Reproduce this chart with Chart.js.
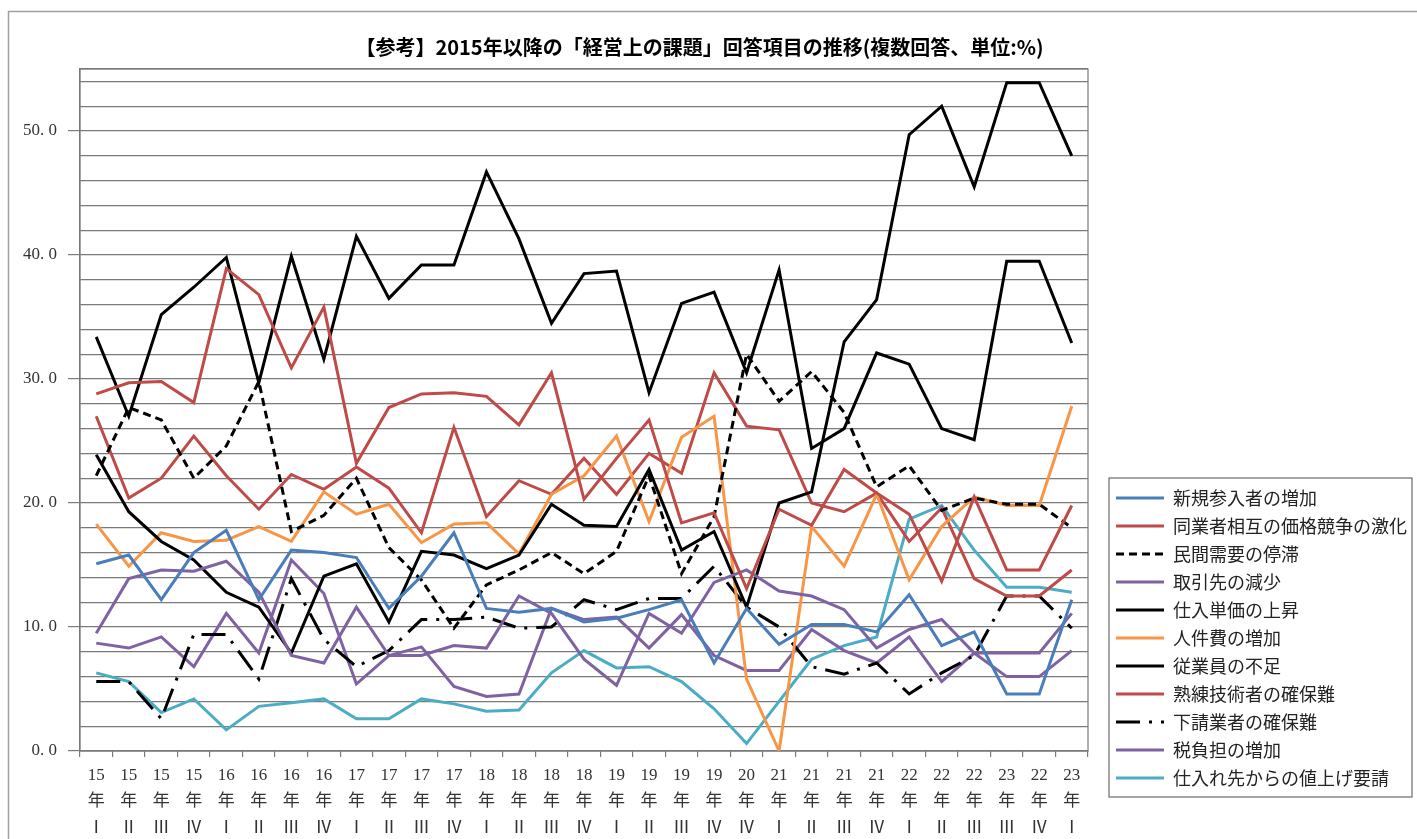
<!DOCTYPE html>
<html lang="ja">
<head>
<meta charset="utf-8">
<title>経営上の課題 回答項目の推移</title>
<script src="https://cdn.jsdelivr.net/npm/chart.js@4.4.1/dist/chart.umd.min.js"></script>
<style>
  html, body { margin: 0; padding: 0; background: #fff; }
</style>
</head>
<body>
<canvas id="chart" width="1417" height="839"></canvas>
<script>
// x axis: year + quarter (three-line labels)
const years = ["15","15","15","15","16","16","16","16","17","17","17","17","18","18","18","18",
               "19","19","19","19","20","21","21","21","21","22","22","22","23","22","23"];
const quarters = ["Ⅰ","Ⅱ","Ⅲ","Ⅳ","Ⅰ","Ⅱ","Ⅲ","Ⅳ","Ⅰ","Ⅱ","Ⅲ","Ⅳ","Ⅰ","Ⅱ","Ⅲ","Ⅳ",
                  "Ⅰ","Ⅱ","Ⅲ","Ⅳ","Ⅳ","Ⅰ","Ⅱ","Ⅲ","Ⅳ","Ⅰ","Ⅱ","Ⅲ","Ⅲ","Ⅳ","Ⅰ"];

// y axis: a grid line every 2 points, a label every 10
const yGrid = [0,2,4,6,8,10,12,14,16,18,20,22,24,26,28,30,32,34,36,38,40,42,44,46,48,50,52,54,55];
const yLabelled = [0,10,20,30,40,50];

// series (%)
const newEntrants   = [15.1,15.8,12.2,16.0,17.8,12.2,16.2,16.0,15.6,11.5,14.1,17.6,11.5,11.2,11.5,10.4,
                       10.7,11.4,12.2,7.1,11.5,8.6,10.2,10.2,9.6,12.6,8.5,9.6,4.6,4.6,12.2];
const priceWar      = [28.8,29.7,29.8,28.1,38.9,36.8,30.9,35.8,23.2,27.7,28.8,28.9,28.6,26.3,30.5,20.3,
                       23.6,26.7,18.4,19.2,13.1,19.5,18.2,22.7,20.8,19.1,13.7,20.5,14.6,14.6,19.8];
const weakDemand    = [22.2,27.7,26.7,22.0,24.6,29.8,17.7,19.0,22.0,16.4,13.8,9.9,13.4,14.6,16.0,14.3,
                       16.1,22.2,14.3,18.9,32.0,28.2,30.6,27.3,21.3,23.0,19.4,20.4,19.9,19.9,18.0];
const fewerClients  = [9.5,13.9,14.6,14.5,15.3,12.8,7.7,7.1,11.6,7.7,7.7,8.5,8.3,12.5,11.1,7.4,
                       5.3,11.1,9.5,13.6,14.6,12.9,12.5,11.4,8.3,9.8,10.6,7.9,6.0,6.0,8.1];
const inputPrices   = [23.9,19.3,16.9,15.4,12.8,11.6,7.9,14.1,15.1,10.4,16.1,15.8,14.7,15.8,19.9,18.2,
                       18.1,22.7,16.2,17.7,11.6,20.0,20.9,33.0,36.4,49.7,52.0,45.5,53.9,53.9,48.0];
const labourCost    = [18.3,14.9,17.6,16.9,17.0,18.1,16.9,20.9,19.1,19.9,16.8,18.3,18.4,15.9,20.7,22.2,
                       25.4,18.5,25.3,27.0,5.8,0.0,18.1,14.9,20.7,13.8,18.1,20.5,19.8,19.8,27.8];
const staffShortage = [33.4,27.0,35.2,37.4,39.8,29.7,39.9,31.6,41.5,36.5,39.2,39.2,46.7,41.3,34.5,38.5,
                       38.7,28.9,36.1,37.0,30.5,38.8,24.4,26.0,32.1,31.2,26.0,25.1,39.5,39.5,32.9];
const skilledStaff  = [27.0,20.4,22.0,25.4,22.2,19.5,22.3,21.1,22.9,21.2,17.6,26.1,18.9,21.8,20.7,23.6,
                       20.7,24.0,22.4,30.5,26.2,25.9,20.0,19.3,20.8,16.9,19.6,13.9,12.5,12.5,14.6];
const subcontract   = [5.6,5.6,2.6,9.4,9.4,5.8,13.9,9.0,6.8,8.1,10.6,10.6,10.8,9.9,10.0,12.2,
                       11.4,12.3,12.3,14.9,11.6,10.0,6.8,6.2,7.1,4.6,6.3,7.7,12.5,12.5,9.9];
const taxBurden     = [8.7,8.3,9.2,6.8,11.1,7.9,15.4,12.7,5.4,7.7,8.4,5.2,4.4,4.6,11.5,10.6,
                       10.8,8.3,11.0,7.7,6.5,6.5,9.8,8.1,7.1,9.2,5.6,7.9,7.9,7.9,11.1];
const supplierHikes = [6.3,5.6,3.1,4.2,1.7,3.6,3.9,4.2,2.6,2.6,4.2,3.8,3.2,3.3,6.3,8.1,
                       6.7,6.8,5.6,3.4,0.6,4.0,7.4,8.5,9.2,18.7,19.8,16.2,13.2,13.2,12.8];

const BLUE = '#4a7ebb', RED = '#be4b48', PURPLE = '#7f62a1', ORANGE = '#f79646', CYAN = '#4bacc6', BLACK = '#000';
const GRID = '#7a7a7a';
const DASH = [8, 5];
const DASHDOT = [24, 9, 3, 9];

function series(label, data, color, dash) {
    return {
        label: label,
        data: data,
        borderColor: color,
        backgroundColor: color,
        borderWidth: 3,
        borderDash: dash || [],
        borderCapStyle: 'butt',
        pointRadius: 0,
        pointHoverRadius: 0,
        tension: 0,
        fill: false
    };
}

// white page, outer frame, plot box and legend box
const framePlugin = {
    id: 'frame',
    afterLayout(chart) {
        // legend sits a bit right of the plot and ends above the axis labels
        chart.legend.left += 18;
        chart.legend.right += 18;
        chart.legend.top -= 42;
        chart.legend.bottom -= 42;
    },
    beforeDraw(chart) {
        const ctx = chart.ctx;
        ctx.save();
        ctx.fillStyle = '#fff';
        ctx.fillRect(0, 0, chart.width, chart.height);
        ctx.strokeStyle = '#a0a0a0';
        ctx.lineWidth = 1.5;
        ctx.strokeRect(8.5, 11.5, chart.width, chart.height);
        ctx.restore();
    },
    beforeDatasetsDraw(chart) {
        const a = chart.chartArea;
        const ctx = chart.ctx;
        ctx.save();
        ctx.strokeStyle = GRID;
        ctx.lineWidth = 1.2;
        ctx.strokeRect(a.left, a.top, a.right - a.left, a.bottom - a.top);
        ctx.restore();
    },
    afterDraw(chart) {
        const boxes = chart.legend.legendHitBoxes;
        if (!boxes || !boxes.length) return;
        let l = Infinity, t = Infinity, r = -Infinity, b = -Infinity;
        boxes.forEach(h => {
            l = Math.min(l, h.left); t = Math.min(t, h.top);
            r = Math.max(r, h.left + h.width); b = Math.max(b, h.top + h.height);
        });
        const ctx = chart.ctx;
        ctx.save();
        ctx.strokeStyle = '#6a6a6a';
        ctx.lineWidth = 1.2;
        ctx.strokeRect(l - 7, t - 11, r - l + 12, b - t + 21);
        ctx.restore();
    }
};

new Chart(document.getElementById('chart'), {
    type: 'line',
    data: {
        labels: years.map((y, i) => [y, '年', quarters[i]]),
        datasets: [
            series('新規参入者の増加', newEntrants, BLUE),
            series('同業者相互の価格競争の激化', priceWar, RED),
            series('民間需要の停滞', weakDemand, BLACK, DASH),
            series('取引先の減少', fewerClients, PURPLE),
            series('仕入単価の上昇', inputPrices, BLACK),
            series('人件費の増加', labourCost, ORANGE),
            series('従業員の不足', staffShortage, BLACK),
            series('熟練技術者の確保難', skilledStaff, RED),
            series('下請業者の確保難', subcontract, BLACK, DASHDOT),
            series('税負担の増加', taxBurden, PURPLE),
            series('仕入れ先からの値上げ要請', supplierHikes, CYAN)
        ]
    },
    options: {
        responsive: false,
        devicePixelRatio: 1,
        animation: false,
        events: [],
        layout: { padding: { left: 0, right: 18, top: 0, bottom: 0 } },
        scales: {
            x: {
                offset: true,
                afterFit(scale) { scale.height = 88; },
                grid: { offset: true, drawOnChartArea: false, tickLength: 6, color: GRID, lineWidth: 1.2 },
                border: { color: GRID, width: 1.2 },
                ticks: {
                    autoSkip: false,
                    maxRotation: 0,
                    padding: 5,
                    color: '#333',
                    font: { family: "'Liberation Serif', 'Noto Sans CJK JP'", size: 17, lineHeight: 1.56 }
                }
            },
            y: {
                min: 0,
                max: 55,
                afterFit(scale) { scale.width = 80; },
                afterBuildTicks(scale) { scale.ticks = yGrid.map(v => ({ value: v })); },
                grid: {
                    color: GRID,
                    lineWidth: 1.2,
                    tickLength: 12,
                    tickColor: (c) => (c.tick && yLabelled.includes(c.tick.value)) ? GRID : 'rgba(0,0,0,0)'
                },
                border: { color: GRID, width: 1.2 },
                ticks: {
                    autoSkip: false,
                    padding: 11,
                    color: '#333',
                    font: { family: "'Liberation Serif', 'Noto Sans CJK JP'", size: 17 },
                    callback: (v) => yLabelled.includes(v) ? v.toFixed(1).replace('.', '. ') : ''
                }
            }
        },
        plugins: {
            title: {
                display: true,
                text: '【参考】2015年以降の「経営上の課題」回答項目の推移(複数回答、単位:%)',
                color: '#000',
                font: { family: "'Noto Sans CJK JP'", size: 20, weight: 'bold', lineHeight: 1.2 },
                padding: { top: 35, bottom: 10 }
            },
            legend: {
                position: 'right',
                align: 'end',
                labels: {
                    usePointStyle: true,
                    pointStyle: 'line',
                    pointStyleWidth: 48,
                    padding: 10,
                    color: '#222',
                    font: { family: "'Noto Sans CJK JP'", size: 18 },
                    // point style drops the dash pattern, so copy it from the datasets
                    generateLabels(chart) {
                        const items = Chart.defaults.plugins.legend.labels.generateLabels(chart);
                        items.forEach(item => {
                            const ds = chart.data.datasets[item.datasetIndex];
                            item.lineDash = ds.borderDash;
                            item.lineWidth = ds.borderWidth;
                            item.strokeStyle = ds.borderColor;
                        });
                        return items;
                    }
                }
            },
            tooltip: { enabled: false }
        }
    },
    plugins: [framePlugin]
});
</script>
</body>
</html>
